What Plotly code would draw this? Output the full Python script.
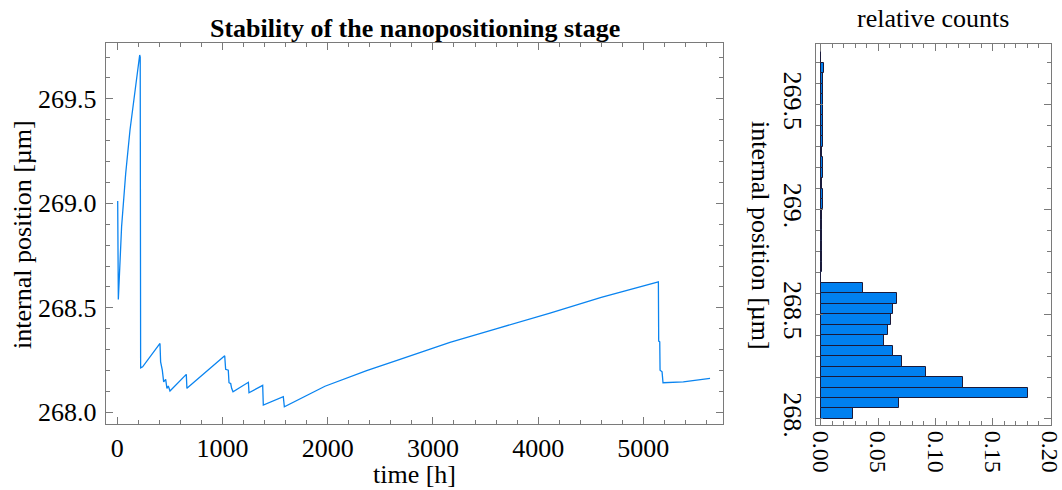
import plotly.graph_objects as go

# ---- main time series (vertices) ----
time_h = [4, 4, 10, 41, 80, 121, 168, 213, 218, 222, 241, 406, 412, 428, 441, 460, 472, 485, 501,
          656, 662, 1021, 1030, 1055, 1062, 1078, 1087, 1100, 1246, 1252, 1382, 1388, 1578, 1588,
          1974, 2370, 2687, 2877, 3162, 3600, 4113, 4600, 5137, 5143, 5146, 5156, 5159, 5178, 5187,
          5380, 5634]
position_um = [269.011, 268.92, 268.54, 268.888, 269.143, 269.351, 269.542, 269.71, 269.70, 268.213,
               268.218, 268.330, 268.242, 268.202, 268.146, 268.158, 268.115, 268.126, 268.102,
               268.182, 268.115, 268.271, 268.206, 268.202, 268.142, 268.138, 268.115, 268.099,
               268.144, 268.094, 268.129, 268.035, 268.075, 268.027,
               268.125, 268.20, 268.254, 268.287, 268.335, 268.40, 268.475, 268.55, 268.625,
               268.625, 268.341, 268.338, 268.202, 268.194, 268.142, 268.146, 268.163]

# ---- histogram (relative counts per 0.05 um bin, bins starting at 268.00) ----
bin_width = 0.05
bin_start = [268.00, 268.05, 268.10, 268.15, 268.20, 268.25, 268.30, 268.35, 268.40, 268.45, 268.50,
             268.55, 268.60, 268.65, 268.70, 268.75, 268.80, 268.85, 268.90, 268.95, 269.00, 269.05,
             269.10, 269.15, 269.20, 269.25, 269.30, 269.35, 269.40, 269.45, 269.50, 269.55, 269.60,
             269.65, 269.70]
rel_counts = [0.028, 0.068, 0.181, 0.124, 0.092, 0.071, 0.063, 0.055, 0.059, 0.061, 0.063,
              0.067, 0.037, 0.0005, 0.0009, 0.0009, 0.001, 0.001, 0.0015, 0.0015, 0.0017, 0.0017,
              0.0015, 0.0017, 0.0017, 0.0015, 0.0017, 0.002, 0.002, 0.0023, 0.0023, 0.0023, 0.0023,
              0.0029, 0.0005]

x_ticks = [0, 1000, 2000, 3000, 4000, 5000]
y_ticks = [268.0, 268.5, 269.0, 269.5]
y_ticklabels_main = ["268.0", "268.5", "269.0", "269.5"]
y_ticklabels_hist = ["268.", "268.5", "269.", "269.5"]
hx_ticks = [0.0, 0.05, 0.10, 0.15, 0.20]
hx_ticklabels = ["0.00", "0.05", "0.10", "0.15", "0.20"]

FONT = "Liberation Serif, Times New Roman, serif"
FRAME = "#7a7a7a"
W, H = 1062, 490
FS = 26

fig = go.Figure()
fig.add_trace(go.Scatter(x=time_h, y=position_um, mode="lines",
                         line=dict(color="#0a84f0", width=1.3),
                         xaxis="x", yaxis="y", showlegend=False))
fig.add_trace(go.Bar(y=[b + bin_width / 2 for b in bin_start], x=rel_counts, orientation="h",
                     width=bin_width,
                     marker=dict(color="#0080f0", line=dict(color="#1a1a3a", width=1)),
                     xaxis="x2", yaxis="y2", showlegend=False))

def px_x(a, b):
    return [a / W, b / W]

def px_y(top, bottom):
    return [(H - bottom) / H, (H - top) / H]

common = dict(showline=True, linecolor=FRAME, linewidth=1, mirror="allticks",
              ticks="inside", ticklen=7, tickwidth=1, tickcolor=FRAME,
              showgrid=False, zeroline=False, automargin=False, ticklabeloverflow="allow")

fig.update_layout(
    width=W, height=H,
    margin=dict(l=0, r=0, t=0, b=0),
    paper_bgcolor="white", plot_bgcolor="white",
    bargap=0,
    xaxis=dict(domain=px_x(105.7, 723.3), range=[-110, 5760], tickvals=x_ticks,
               ticktext=[str(v) for v in x_ticks],
               tickfont=dict(family=FONT, size=FS, color="black"),
               minor=dict(dtick=200, tick0=0, ticks="inside", ticklen=4, tickcolor=FRAME),
               **common),
    yaxis=dict(domain=px_y(43.3, 424.3), range=[267.943, 269.766], tickvals=y_ticks,
               ticktext=y_ticklabels_main, ticklabelstandoff=3,
               tickfont=dict(family=FONT, size=FS, color="black"),
               minor=dict(dtick=0.1, tick0=268, ticks="inside", ticklen=4, tickcolor=FRAME),
               **common),
    xaxis2=dict(domain=px_x(816, 1050.5), range=[-0.0041, 0.2005], tickvals=hx_ticks,
                ticktext=hx_ticklabels, tickangle=90, anchor="y2",
                tickfont=dict(family=FONT, size=24, color="black"),
                minor=dict(dtick=0.01, tick0=0, ticks="inside", ticklen=4, tickcolor=FRAME),
                **common),
    yaxis2=dict(domain=px_y(44, 425), range=[267.971, 269.79], tickvals=y_ticks,
                ticktext=y_ticklabels_hist, tickangle=90, anchor="x2",
                tickfont=dict(family=FONT, size=FS, color="black"),
                minor=dict(dtick=0.1, tick0=268, ticks="inside", ticklen=4, tickcolor=FRAME),
                **common),
    annotations=[
        dict(text="<b>Stability of the nanopositioning stage</b>", x=414.5 / W, y=(H - 28) / H,
             xref="paper", yref="paper", showarrow=False, xanchor="center", yanchor="middle",
             font=dict(family=FONT, size=FS, color="black")),
        dict(text="time [h]", x=414.5 / W, y=(H - 474) / H, xref="paper", yref="paper",
             showarrow=False, xanchor="center", yanchor="middle",
             font=dict(family=FONT, size=FS, color="black")),
        dict(text="internal position [µm]", x=22 / W, y=(H - 235) / H, xref="paper", yref="paper",
             showarrow=False, xanchor="center", yanchor="middle", textangle=-90,
             font=dict(family=FONT, size=FS, color="black")),
        dict(text="relative counts", x=933 / W, y=(H - 18) / H, xref="paper", yref="paper",
             showarrow=False, xanchor="center", yanchor="middle",
             font=dict(family=FONT, size=FS, color="black")),
        dict(text="internal position [µm]", x=761 / W, y=(H - 235) / H, xref="paper", yref="paper",
             showarrow=False, xanchor="center", yanchor="middle", textangle=90,
             font=dict(family=FONT, size=FS, color="black")),
    ],
)

fig.write_html("out.html", config={"displayModeBar": False},
               post_script="document.body.style.margin='0';document.body.style.overflow='hidden';")
